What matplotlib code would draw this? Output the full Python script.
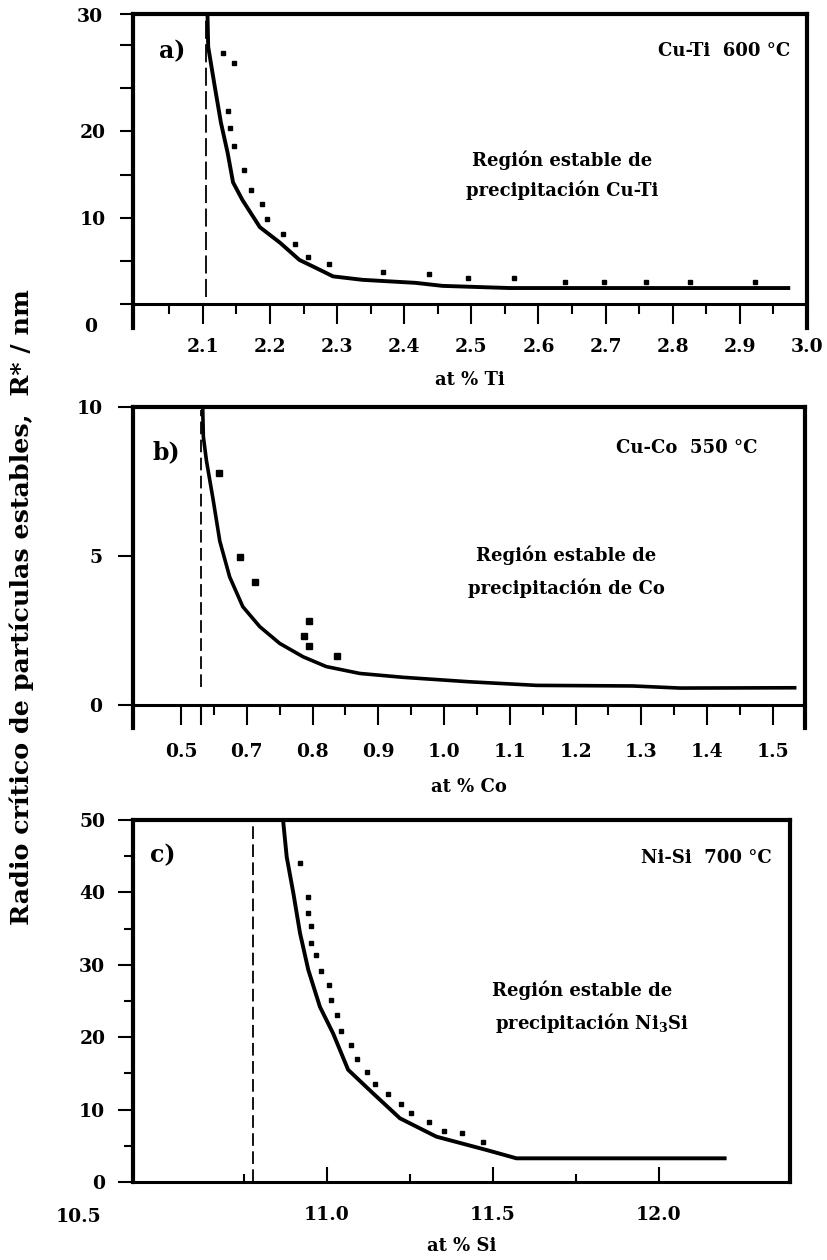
import matplotlib
matplotlib.use("Agg")
import matplotlib.pyplot as plt
import numpy as np

# ---------------- data ----------------
# Panel a) Cu-Ti 600 C
ti_curve_x = [2.107, 2.108, 2.118, 2.127, 2.137, 2.145, 2.159, 2.185, 2.215, 2.244,
              2.268, 2.294, 2.338, 2.417, 2.457, 2.557, 2.975]
ti_curve_y = [33.4, 29.8, 25.1, 21.0, 17.5, 14.1, 12.05, 8.9, 7.1, 5.1,
              4.2, 3.2, 2.8, 2.45, 2.1, 1.85, 1.85]
ti_pts_x = [2.130, 2.146, 2.137, 2.141, 2.146, 2.161, 2.172, 2.188, 2.195, 2.219,
            2.237, 2.257, 2.288, 2.368, 2.437, 2.495, 2.564, 2.640, 2.698, 2.760,
            2.825, 2.922]
ti_pts_y = [29.05, 27.9, 22.4, 20.35, 18.35, 15.5, 13.2, 11.55, 9.8, 8.07,
            6.9, 5.5, 4.6, 3.75, 3.5, 3.0, 3.0, 2.6, 2.6, 2.6,
            2.6, 2.6]
ti_limit = 2.104
ti_xticks = [2.1, 2.2, 2.3, 2.4, 2.5, 2.6, 2.7, 2.8, 2.9, 3.0]
ti_xlabels = ["2.1", "2.2", "2.3", "2.4", "2.5", "2.6", "2.7", "2.8", "2.9", "3.0"]
ti_yticks = [0, 10, 20, 30]

# Panel b) Cu-Co 550 C
co_curve_x = [0.633, 0.634, 0.6387, 0.6488, 0.659, 0.674, 0.694, 0.7198, 0.750,
              0.7856, 0.821, 0.872, 0.938, 1.039, 1.141, 1.287, 1.359, 1.536]
co_curve_y = [10.0, 9.0, 8.2, 6.9, 5.5, 4.3, 3.3, 2.63, 2.07,
              1.62, 1.29, 1.06, 0.93, 0.78, 0.66, 0.64, 0.57, 0.58]
co_pts_x = [0.6574, 0.6894, 0.7122, 0.7948, 0.7867, 0.7948, 0.838]
co_pts_y = [7.80, 4.98, 4.14, 2.82, 2.33, 1.99, 1.65]
co_limit = 0.630
co_xticks = [0.6, 0.7, 0.8, 0.9, 1.0, 1.1, 1.2, 1.3, 1.4, 1.5]
co_xlabels = ["0.5", "0.7", "0.8", "0.9", "1.0", "1.1", "1.2", "1.3", "1.4", "1.5"]
co_yticks = [0, 5, 10]

# Panel c) Ni-Si 700 C
si_curve_x = [10.868, 10.879, 10.899, 10.919, 10.944, 10.979, 11.019, 11.064,
              11.139, 11.22, 11.33, 11.481, 11.571, 12.204]
si_curve_y = [50.0, 44.9, 39.9, 34.4, 29.3, 24.2, 20.5, 15.5,
              12.25, 8.8, 6.26, 4.42, 3.27, 3.27]
si_pts_x = [10.919, 10.944, 10.944, 10.951, 10.951, 10.966, 10.982, 11.005, 11.013,
            11.029, 11.042, 11.074, 11.090, 11.121, 11.146, 11.183, 11.223, 11.253,
            11.308, 11.353, 11.408, 11.471]
si_pts_y = [44.0, 39.4, 37.1, 35.4, 33.0, 31.35, 29.2, 27.2, 25.1,
            23.1, 20.8, 18.9, 17.0, 15.2, 13.5, 12.15, 10.8, 9.5,
            8.3, 7.0, 6.8, 5.5]
si_limit = 10.777
si_xticks = [11.0, 11.5, 12.0]
si_xlabels = ["11.0", "11.5", "12.0"]
si_yticks = [0, 10, 20, 30, 40, 50]

# ---------------- style ----------------
W, H = 828, 1260
FAM = "DejaVu Serif"
plt.rcParams["font.family"] = [FAM, "DejaVu Sans"]
plt.rcParams["font.weight"] = "bold"
plt.rcParams["mathtext.fontset"] = "dejavuserif"
TICK_FS = 13.5
TEXT_FS = 13

fig = plt.figure(figsize=(W / 100, H / 100), dpi=100)


def box(l, t, r, b):
    return [l / W, 1 - b / H, (r - l) / W, (b - t) / H]


def ftext(x, y, s, **kw):
    kw.setdefault("fontsize", TEXT_FS)
    kw.setdefault("fontweight", "bold")
    fig.text(x / W, 1 - y / H, s, **kw)


def frame(ax):
    for side in ["left", "top", "right"]:
        ax.spines[side].set_linewidth(3.0)
    ax.spines["bottom"].set_linewidth(2.2)
    for lab in ax.get_xticklabels() + ax.get_yticklabels():
        lab.set_fontweight("bold")
        lab.set_fontsize(TICK_FS)


def xlabel(ax, s, yfrac):
    ax.set_xlabel(s, fontsize=TEXT_FS, fontweight="bold")
    ax.xaxis.label.set_va("center")
    ax.xaxis.set_label_coords(0.5, yfrac)


# ---------- panel a ----------
ax = fig.add_axes(box(133, 14, 807, 328))
ax.set_xlim(1.996, 3.0)
ax.set_ylim(-2.78, 33.6)
ax.spines["bottom"].set_position(("data", 0))
ax.plot(ti_curve_x, ti_curve_y, color="black", lw=2.8, solid_capstyle="butt")
ax.plot(ti_pts_x, ti_pts_y, ls="none", marker="s", ms=3.0, color="black")
ax.plot([ti_limit, ti_limit], [0.8, 33.0], color="black", lw=1.3,
        dashes=(10, 3))
ax.set_xticks(ti_xticks)
ax.set_xticklabels(ti_xlabels)
ax.set_xticks(np.arange(2.05, 3.0, 0.1), minor=True)
ax.set_yticks(ti_yticks)
ax.set_yticklabels(["", "10", "20", ""])
ax.set_yticks([5, 15, 25, 33.6], minor=True)
ax.tick_params(axis="x", which="major", direction="out", length=14.5, width=1.5, pad=10)
ax.tick_params(axis="x", which="minor", direction="out", length=7, width=1.5)
ax.tick_params(axis="y", which="both", direction="out", length=9.5, width=1.5, pad=10)
frame(ax)
ax.annotate("30", xy=(0, 30), xycoords=ax.get_yaxis_transform(),
            xytext=(-21.5, 20), textcoords="offset points", ha="right", va="center",
            fontsize=TICK_FS, fontweight="bold")
ax.annotate("0", xy=(0, 0), xycoords=ax.get_yaxis_transform(),
            xytext=(-25.5, -16.5), textcoords="offset points", ha="right", va="center",
            fontsize=TICK_FS, fontweight="bold")
xlabel(ax, "at % Ti", (328 - 380) / 314)

ftext(172, 51, "a)", fontsize=17, ha="center", va="center")
ftext(724, 51, "Cu-Ti  600 °C", ha="center", va="center")
ftext(562, 160, "Región estable de", ha="center", va="center")
ftext(562, 190, "precipitación Cu-Ti", ha="center", va="center")

# ---------- panel b ----------
ax = fig.add_axes(box(133, 407, 805, 728))
ax.set_xlim(0.527, 1.549)
ax.set_ylim(-0.77, 10)
ax.spines["bottom"].set_position(("data", 0))
ax.plot(co_curve_x, co_curve_y, color="black", lw=2.6, solid_capstyle="butt")
ax.plot(co_pts_x, co_pts_y, ls="none", marker="s", ms=4.2, color="black")
ax.plot([co_limit, co_limit], [0.6, 9.9], color="black", lw=1.3, dashes=(7, 3))
ax.vlines(co_limit, -0.67, 0, color="black", lw=1.5)
ax.set_xticks(co_xticks)
ax.set_xticklabels(co_xlabels)
ax.set_xticks(np.arange(0.65, 1.5, 0.1), minor=True)
ax.set_yticks(co_yticks)
ax.set_yticklabels(["0", "5", "10"])
ax.tick_params(axis="x", which="major", direction="out", length=14.5, width=1.5, pad=13)
ax.tick_params(axis="x", which="minor", direction="out", length=7, width=1.5)
ax.tick_params(axis="y", which="both", direction="out", length=11, width=1.5, pad=11)
frame(ax)
xlabel(ax, "at % Co", (728 - 787) / 321)

ftext(166, 452, "b)", fontsize=17, ha="center", va="center")
ftext(687, 448, "Cu-Co  550 °C", ha="center", va="center")
ftext(566, 555, "Región estable de", ha="center", va="center")
ftext(566, 588, "precipitación de Co", ha="center", va="center")

# ---------- panel c ----------
ax = fig.add_axes(box(133, 820, 790, 1182))
ax.set_xlim(10.416, 12.395)
ax.set_ylim(0, 50)
ax.plot(si_curve_x, si_curve_y, color="black", lw=2.8, solid_capstyle="butt")
ax.plot(si_pts_x, si_pts_y, ls="none", marker="s", ms=3.0, color="black")
ax.plot([si_limit, si_limit], [0, 49.6], color="black", lw=1.3, dashes=(7, 3))
ax.set_xticks(si_xticks)
ax.set_xticklabels(si_xlabels)
ax.set_xticks([10.75, 11.25, 11.75], minor=True)
ax.set_yticks(si_yticks)
ax.set_yticks([5, 15, 25, 35, 45], minor=True)
ax.tick_params(axis="x", which="major", direction="in", length=10.5, width=1.5, pad=17)
ax.tick_params(axis="x", which="minor", direction="in", length=6, width=1.5)
ax.tick_params(axis="y", which="major", direction="out", length=11, width=1.5, pad=9)
ax.tick_params(axis="y", which="minor", direction="out", length=6.5, width=1.5)
frame(ax)
ax.annotate("10.5", xy=(0, 0), xycoords="axes fraction",
            xytext=(-39, -25), textcoords="offset points", ha="center", va="center",
            fontsize=TICK_FS, fontweight="bold")
xlabel(ax, "at % Si", (1182 - 1246) / 362)

ftext(163, 855, "c)", fontsize=17, ha="center", va="center")
ftext(706, 858, "Ni-Si  700 °C", ha="center", va="center")
ftext(582, 990, "Región estable de", ha="center", va="center")
ftext(592, 1023, "precipitación Ni$_3$Si", ha="center", va="center")

# common y label
ftext(22, 607, "Radio crítico de partículas estables,  R* / nm", fontsize=18.3,
      rotation=90, ha="center", va="center")

fig.savefig("out.png", dpi=100, facecolor="white")
